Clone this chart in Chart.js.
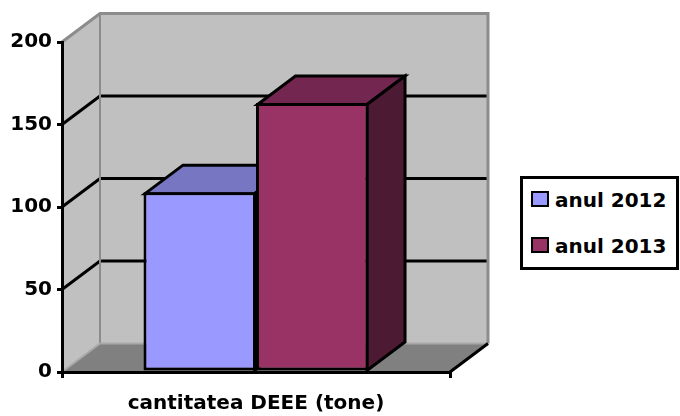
<!DOCTYPE html>
<html><head><meta charset="utf-8">
<script src="https://cdn.jsdelivr.net/npm/chart.js@4/dist/chart.umd.min.js"></script>
<style>
html,body{margin:0;padding:0;background:#fff;}
#wrap{position:relative;width:680px;height:416px;overflow:hidden;background:#fff;}
canvas{position:absolute;left:0;top:0;}
#legend{position:absolute;left:520px;top:176px;width:159px;height:94px;box-sizing:border-box;border:3px solid #000;background:#fff;}
.item{position:absolute;left:32px;font-family:"DejaVu Sans";font-weight:bold;font-size:20px;line-height:20px;color:#000;white-space:nowrap;}
.sw{position:absolute;left:8px;width:18px;height:16px;box-sizing:border-box;border:2px solid #000;}
</style></head>
<body>
<div id="wrap"><canvas id="c" width="680" height="416"></canvas><div id="legend"></div></div>
<script>
// ---- data ----
const categories = ['cantitatea DEEE (tone)'];
const seriesNames = ['anul 2012', 'anul 2013'];
const anul2012 = [109];
const anul2013 = [163];
const yTickValues = [0, 50, 100, 150, 200];

// ---- styles ----
const frontColors = ['#9999FF', '#993366'];
const topColors = ['#7676C2', '#73264F'];
const sideColors = ['#4D4D80', '#4D1A34'];
const DX = 38, DY = 28.5;
const FONT = {family: 'DejaVu Sans', weight: 'bold', size: 20};

function poly(ctx, pts, fill, stroke, lw) {
  ctx.beginPath();
  ctx.moveTo(pts[0][0], pts[0][1]);
  for (let i = 1; i < pts.length; i++) ctx.lineTo(pts[i][0], pts[i][1]);
  ctx.closePath();
  if (fill) { ctx.fillStyle = fill; ctx.fill(); }
  if (stroke) { ctx.strokeStyle = stroke; ctx.lineWidth = lw; ctx.stroke(); }
}
function pline(ctx, pts, color, lw) {
  ctx.beginPath();
  ctx.moveTo(pts[0][0], pts[0][1]);
  for (let i = 1; i < pts.length; i++) ctx.lineTo(pts[i][0], pts[i][1]);
  ctx.strokeStyle = color; ctx.lineWidth = lw; ctx.stroke();
}

const threeD = {
  id: 'threeD',
  beforeDraw(chart) {
    const ctx = chart.ctx, a = chart.chartArea, ys = chart.scales.y;
    const L = a.left, R = a.right, T = a.top, B = a.bottom;
    ctx.save();
    ctx.lineJoin = 'miter';
    // walls and floor
    poly(ctx, [[L, T], [L + DX, T - DY], [L + DX, B - DY], [L, B]], '#C0C0C0');
    poly(ctx, [[L + DX, T - DY], [R + DX, T - DY], [R + DX, B - DY], [L + DX, B - DY]], '#C0C0C0');
    poly(ctx, [[L, B], [L + DX, B - DY], [R + DX, B - DY], [R, B]], '#808080');
    // gridlines
    ys.ticks.forEach(t => {
      if (t.value > ys.min && t.value < ys.max) {
        const y = ys.getPixelForValue(t.value);
        pline(ctx, [[L, y], [L + DX, y - DY], [R + DX, y - DY]], '#000', 3);
      }
    });
    // wall edges
    pline(ctx, [[L + DX, T - DY], [L + DX, B - DY]], '#8C8C8C', 2);
    pline(ctx, [[L, B], [L + DX, B - DY], [R + DX, B - DY]], '#A8A8A8', 2);
    pline(ctx, [[L, T], [L + DX, T - DY], [R + DX, T - DY], [R + DX, B - DY]], '#8C8C8C', 3);
    pline(ctx, [[R, B], [R + DX, B - DY]], '#000', 3);
    ctx.restore();
  },
  beforeDatasetsDraw(chart) {
    const ctx = chart.ctx;
    ctx.save();
    ctx.lineJoin = 'miter';
    // bar depth faces (front faces drawn by Chart.js afterwards)
    chart.data.datasets.forEach((ds, i) => {
      const meta = chart.getDatasetMeta(i);
      meta.data.forEach(el => {
        const p = el.getProps(['x', 'y', 'base', 'width'], true);
        const l = p.x - p.width / 2 + 1.5, r = p.x + p.width / 2 - 1.5, t = p.y + 1.5, b = p.base;
        poly(ctx, [[l, t], [r, t], [r + DX, t - DY], [l + DX, t - DY]], topColors[i], '#000', 3);
        poly(ctx, [[r, t], [r + DX, t - DY], [r + DX, b - DY], [r, b]], sideColors[i], '#000', 3);
      });
    });
    ctx.restore();
  }
};

const seriesData = [anul2012, anul2013];
const chart = new Chart(document.getElementById('c'), {
  type: 'bar',
  data: {
    labels: categories,
    datasets: seriesNames.map((n, i) => ({
      label: n,
      data: seriesData[i],
      backgroundColor: frontColors[i],
      borderColor: '#000',
      borderWidth: 3,
      borderSkipped: false,
      categoryPercentage: 0.58,
      barPercentage: 1
    }))
  },
  options: {
    responsive: false,
    animation: false,
    devicePixelRatio: 1,
    layout: {padding: {top: 42, right: 230, left: 0, bottom: 0}},
    plugins: {legend: {display: false}, tooltip: {enabled: false}},
    scales: {
      y: {
        min: 0, max: 200,
        afterBuildTicks: s => { s.ticks = yTickValues.map(v => ({value: v})); },
        afterFit: s => { s.width = 62; },
        ticks: {color: '#000', font: FONT, padding: 5},
        grid: {drawOnChartArea: false, drawTicks: true, tickLength: 5, tickColor: '#000', lineWidth: 3},
        border: {display: true, color: '#000', width: 3}
      },
      x: {
        afterFit: s => { s.height = 44; },
        ticks: {color: '#000', font: FONT, padding: 14},
        grid: {offset: true, drawOnChartArea: false, drawTicks: true, tickLength: 6, tickColor: '#000', lineWidth: 3},
        border: {display: true, color: '#000', width: 3}
      }
    }
  },
  plugins: [threeD]
});

// legend (HTML, built from series names and colours)
const lg = document.getElementById('legend');
const itemTops = [11, 57];
seriesNames.forEach((n, i) => {
  const sw = document.createElement('div');
  sw.className = 'sw';
  sw.style.top = (itemTops[i] + 1) + 'px';
  sw.style.background = frontColors[i];
  lg.appendChild(sw);
  const tx = document.createElement('div');
  tx.className = 'item';
  tx.style.top = itemTops[i] + 'px';
  tx.textContent = n;
  lg.appendChild(tx);
});
</script>
</body></html>
